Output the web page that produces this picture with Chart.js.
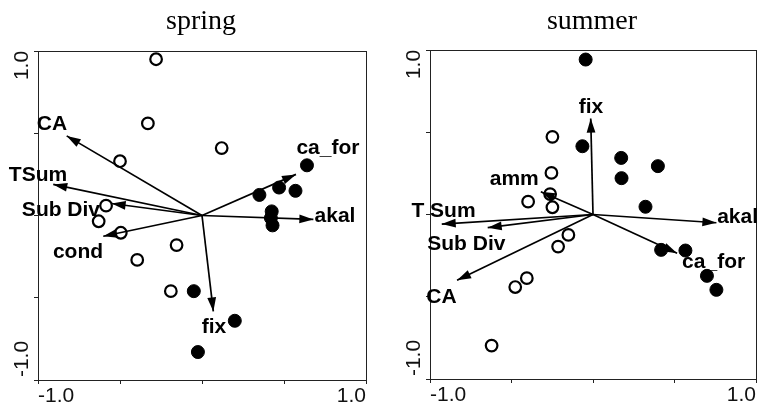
<!DOCTYPE html>
<html><head><meta charset="utf-8">
<script src="https://cdn.jsdelivr.net/npm/chart.js@4.4.1/dist/chart.umd.min.js"></script>
<style>
html,body{margin:0;padding:0;background:#fff;}
#wrap{position:relative;width:766px;height:404px;overflow:hidden;}
canvas{position:absolute;top:0;}
</style>
</head><body>
<div id="wrap">
<canvas id="c1" width="383" height="404" style="left:0"></canvas>
<canvas id="c2" width="383" height="404" style="left:383px"></canvas>
</div>
<script>
// ---- data ----
const panelTitles = ['spring', 'summer'];
const tickValues = [-1, -0.5, 0, 0.5, 1];
const tickLabels = {'-1': '-1.0', '1': '1.0'};

// spring
const springOpenX = [-0.28, -0.33, -0.50, 0.12, -0.585, -0.63, -0.495, -0.155, -0.395, -0.19];
const springOpenY = [0.95, 0.56, 0.33, 0.41, 0.06, -0.035, -0.105, -0.18, -0.27, -0.46];
const springFilledX = [0.64, 0.47, 0.57, 0.35, 0.425, 0.42, 0.43, -0.05, 0.20, -0.025];
const springFilledY = [0.305, 0.17, 0.15, 0.125, 0.025, -0.015, -0.06, -0.46, -0.64, -0.83];
const springVars = ['CA', 'TSum', 'Sub Div', 'cond', 'ca_for', 'akal', 'fix'];
const springVarX = [-0.825, -0.907, -0.551, -0.602, 0.573, 0.679, 0.069];
const springVarY = [0.484, 0.189, 0.073, -0.126, 0.25, -0.024, -0.583];
const springLabelX = [-0.915, -1.0, -0.86, -0.756, 0.768, 0.811, 0.073];
const springLabelY = [0.518, 0.207, -0.006, -0.256, 0.372, -0.037, -0.713];

// summer
const summerOpenX = [-0.249, -0.255, -0.263, -0.398, -0.249, -0.151, -0.214, -0.406, -0.477, -0.622];
const summerOpenY = [0.472, 0.253, 0.124, 0.078, 0.044, -0.124, -0.195, -0.387, -0.441, -0.797];
const summerFilledX = [-0.045, -0.065, 0.173, 0.398, 0.175, 0.322, 0.418, 0.567, 0.699, 0.757];
const summerFilledY = [0.942, 0.415, 0.344, 0.294, 0.221, 0.047, -0.215, -0.219, -0.373, -0.458];
const summerVars = ['fix', 'amm', 'T Sum', 'Sub Div', 'CA', 'akal', 'ca_for'];
const summerVarX = [-0.014, -0.32, -0.928, -0.646, -0.834, 0.757, 0.516];
const summerVarY = [0.583, 0.138, -0.058, -0.08, -0.40, -0.05, -0.235];
const summerLabelX = [-0.012, -0.483, -0.917, -0.777, -0.93, 0.887, 0.74];
const summerLabelY = [0.615, 0.179, -0.015, -0.215, -0.536, -0.052, -0.324];

// ---- drawing ----
const INK = '#000';
const SANS = '"Liberation Sans", Arial, sans-serif';
const SERIF = '"Liberation Serif", "Times New Roman", serif';

function pts(xs, ys) { return xs.map((x, i) => ({x: x, y: ys[i]})); }

const biplot = {
  id: 'biplot',
  beforeDatasetsDraw(chart) {
    const a = chart.chartArea, ctx = chart.ctx;
    ctx.save();
    ctx.strokeStyle = '#222';
    ctx.lineWidth = 1;
    ctx.strokeRect(Math.round(a.left) + 0.5, Math.round(a.top) + 0.5,
                   Math.round(a.right - a.left), Math.round(a.bottom - a.top));
    ctx.restore();
  },
  afterDatasetsDraw(chart, args, o) {
    const ctx = chart.ctx, xs = chart.scales.x, ys = chart.scales.y, a = chart.chartArea;
    ctx.save();
    // arrowheads
    const x0 = xs.getPixelForValue(0), y0 = ys.getPixelForValue(0);
    ctx.fillStyle = INK;
    o.vx.forEach((vx, i) => {
      const x1 = xs.getPixelForValue(vx), y1 = ys.getPixelForValue(o.vy[i]);
      const ang = Math.atan2(y1 - y0, x1 - x0);
      const L = 14, W = 4.4;
      const bx = x1 - L * Math.cos(ang), by = y1 - L * Math.sin(ang);
      ctx.beginPath();
      ctx.moveTo(x1, y1);
      ctx.lineTo(bx - W * Math.sin(ang), by + W * Math.cos(ang));
      ctx.lineTo(bx + W * Math.sin(ang), by - W * Math.cos(ang));
      ctx.closePath();
      ctx.fill();
    });
    // variable labels
    ctx.font = 'bold 21px ' + SANS;
    ctx.textAlign = 'center';
    ctx.textBaseline = 'alphabetic';
    o.names.forEach((n, i) => {
      ctx.fillText(n, xs.getPixelForValue(o.lx[i]), ys.getPixelForValue(o.ly[i]));
    });
    // y tick labels (rotated)
    ctx.font = '21px ' + SANS;
    ctx.textBaseline = 'middle';
    ctx.fillStyle = '#111';
    const lxp = a.left - 15.5;
    [[1, 14.5], [-1, -21]].forEach(([v, off]) => {
      const yp = ys.getPixelForValue(v) + off;
      ctx.save();
      ctx.translate(lxp, yp);
      ctx.rotate(-Math.PI / 2);
      ctx.textAlign = 'center';
      ctx.fillText(tickLabels[String(v)], 0, 0);
      ctx.restore();
    });
    // title
    ctx.font = '28px ' + SERIF;
    ctx.fillStyle = '#000';
    ctx.textAlign = 'center';
    ctx.textBaseline = 'alphabetic';
    ctx.fillText(o.title, (a.left + a.right) / 2 - 1, 29);
    ctx.restore();
  }
};

function makeChart(id, title, openX, openY, filledX, filledY, names, vx, vy, lx, ly, pad) {
  const datasets = [];
  vx.forEach((x, i) => {
    datasets.push({
      data: [{x: 0, y: 0}, {x: x, y: vy[i]}],
      showLine: true, borderColor: INK, borderWidth: 1.7,
      pointRadius: 0, order: 0
    });
  });
  datasets.push({
    data: pts(filledX, filledY), pointRadius: 6.5, pointBorderWidth: 1,
    pointBackgroundColor: INK, pointBorderColor: INK, order: 1
  });
  datasets.push({
    data: pts(openX, openY), pointRadius: 5.8, pointBorderWidth: 2.2,
    pointBackgroundColor: '#fff', pointBorderColor: INK, order: 2
  });
  return new Chart(document.getElementById(id), {
    type: 'scatter',
    data: {datasets},
    plugins: [biplot],
    options: {
      responsive: false, animation: false, devicePixelRatio: 1,
      layout: {padding: pad},
      plugins: {
        legend: {display: false}, tooltip: {enabled: false}, title: {display: false},
        biplot: {title, names, vx, vy, lx, ly}
      },
      scales: {
        x: {
          type: 'linear', min: -1, max: 1, position: 'bottom',
          afterBuildTicks: s => { s.ticks = tickValues.map(v => ({value: v})); },
          afterFit: s => { s.height = 24; },
          ticks: {
            callback: v => tickLabels[String(v)] || '',
            align: 'inner', autoSkip: false, maxRotation: 0, minRotation: 0,
            padding: 0, color: '#111', font: {family: SANS, size: 21}
          },
          grid: {drawOnChartArea: false, drawTicks: true, tickLength: 4, color: '#222'},
          border: {display: true, color: '#222', width: 1}
        },
        y: {
          type: 'linear', min: -1, max: 1, position: 'left',
          afterBuildTicks: s => { s.ticks = tickValues.map(v => ({value: v})); },
          afterFit: s => { s.width = 4; },
          ticks: {display: false},
          grid: {drawOnChartArea: false, drawTicks: true, tickLength: 4, color: '#222'},
          border: {display: true, color: '#222', width: 1}
        }
      }
    }
  });
}

makeChart('c1', panelTitles[0], springOpenX, springOpenY, springFilledX, springFilledY,
  springVars, springVarX, springVarY, springLabelX, springLabelY,
  {top: 51, left: 34, right: 17, bottom: 0});
makeChart('c2', panelTitles[1], summerOpenX, summerOpenY, summerFilledX, summerFilledY,
  summerVars, summerVarX, summerVarY, summerLabelX, summerLabelY,
  {top: 50, left: 43, right: 10, bottom: 1});
</script>
</body></html>
